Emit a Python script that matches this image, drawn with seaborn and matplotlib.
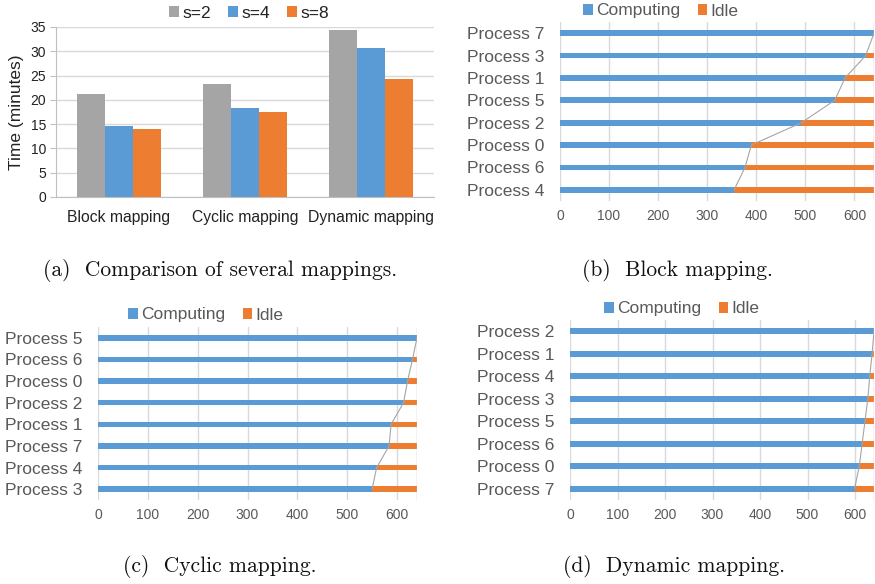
import numpy as np
import pandas as pd
import matplotlib
matplotlib.use("Agg")
import matplotlib.pyplot as plt
import seaborn as sns
from matplotlib.patches import Patch

# (a) run time per mapping and block size
mappings = ["Block mapping", "Cyclic mapping", "Dynamic mapping"]
sizes = ["s=2", "s=4", "s=8"]
time_s2 = [21.3, 23.3, 34.3]
time_s4 = [14.6, 18.4, 30.7]
time_s8 = [13.9, 17.6, 24.2]

# (b)-(d) computing time per process, total run time
total_time = 640
block_procs = ["Process 7", "Process 3", "Process 1", "Process 5",
               "Process 2", "Process 0", "Process 6", "Process 4"]
block_comp = [640, 623, 581, 560, 492, 390, 377, 355]
cyclic_procs = ["Process 5", "Process 6", "Process 0", "Process 2",
                "Process 1", "Process 7", "Process 4", "Process 3"]
cyclic_comp = [640, 631, 621, 613, 588, 584, 559, 550]
dynamic_procs = ["Process 2", "Process 1", "Process 4", "Process 3",
                 "Process 5", "Process 6", "Process 0", "Process 7"]
dynamic_comp = [640, 636, 631, 627, 621, 615, 609, 599]

GRAY = "#A5A5A5"
BLUE = "#5B9BD5"
ORANGE = "#ED7D31"
TXT = "#595959"
GRID = "#D9D9D9"

sns.set_style("white")
plt.rcParams["font.family"] = ["Liberation Sans", "DejaVu Sans"]

W, H = 875, 584
fig = plt.figure(figsize=(W / 100, H / 100), dpi=100)


def rect(left, right, top, bottom):
    return [left / W, 1 - bottom / H, (right - left) / W, (bottom - top) / H]


def square_legend(labels, colors, x, y, color):
    handles = [Patch(facecolor=c, edgecolor="none") for c in colors]
    fig.legend(handles, labels, loc="center", bbox_to_anchor=(x / W, 1 - y / H),
               ncol=len(labels), frameon=False, fontsize=12.5, handlelength=0.55,
               handleheight=0.55, handletextpad=0.2, columnspacing=1.0,
               labelcolor=color, borderpad=0)


# ---- (a) grouped bars
ax_a = fig.add_axes(rect(56, 434, 27, 197))
df = pd.DataFrame({
    "mapping": mappings * 3,
    "size": [sizes[0]] * 3 + [sizes[1]] * 3 + [sizes[2]] * 3,
    "time": time_s2 + time_s4 + time_s8,
})
sns.barplot(data=df, x="mapping", y="time", hue="size", order=mappings,
            hue_order=sizes, palette=[GRAY, BLUE, ORANGE], width=0.67,
            saturation=1, linewidth=0, errorbar=None, legend=False, ax=ax_a)
ax_a.set_ylim(0, 35)
ax_a.set_yticks(range(0, 36, 5))
ax_a.yaxis.grid(True, color=GRID, linewidth=1)
ax_a.set_axisbelow(True)
for s in ["top", "right"]:
    ax_a.spines[s].set_visible(False)
for s in ["left", "bottom"]:
    ax_a.spines[s].set_color("#BFBFBF")
ax_a.tick_params(axis="y", left=True, length=4, color="#BFBFBF",
                 labelsize=10, labelcolor="#222222", pad=3)
ax_a.tick_params(axis="x", bottom=False, labelsize=11.3, labelcolor="#222222", pad=6)
ax_a.set_xlabel("")
ax_a.set_ylabel("Time (minutes)", fontsize=12.5, color="#222222", labelpad=5)
square_legend(sizes, [GRAY, BLUE, ORANGE], 249, 13, "#222222")


# ---- (b)-(d) stacked horizontal bars
def process_chart(box, procs, comp, legend_xy):
    ax = fig.add_axes(rect(*box))
    sns.barplot(x=[total_time] * len(procs), y=procs, orient="h", color=ORANGE,
                width=0.26, saturation=1, linewidth=0, errorbar=None, ax=ax)
    sns.barplot(x=comp, y=procs, orient="h", color=BLUE, saturation=1,
                width=0.26, linewidth=0, errorbar=None, ax=ax)
    ax.plot(comp, np.arange(len(procs)), color=GRAY, linewidth=0.8, zorder=3)
    ax.axvline(total_time, color="#BFBFBF", linewidth=1, zorder=1)
    ax.set_xlim(0, total_time)
    ax.set_ylim(len(procs) - 0.5, -0.5)
    ax.set_xticks(range(0, 601, 100))
    ax.xaxis.grid(True, color=GRID, linewidth=1)
    ax.set_axisbelow(True)
    for s in ax.spines.values():
        s.set_visible(False)
    ax.tick_params(axis="x", bottom=False, length=0, labelsize=10,
                   labelcolor=TXT, pad=6)
    ax.tick_params(axis="y", left=False, length=0, labelsize=12.5,
                   labelcolor=TXT, pad=11)
    ax.set_xlabel("")
    ax.set_ylabel("")
    square_legend(["Computing", "Idle"], [BLUE, ORANGE], *legend_xy, TXT)
    return ax


process_chart((560, 874, 22, 201), block_procs, block_comp, (661, 11))
process_chart((98, 417, 327, 500), cyclic_procs, cyclic_comp, (206, 315))
process_chart((570, 874, 320, 500), dynamic_procs, dynamic_comp, (682, 309))

cap = dict(ha="center", va="center", fontsize=15.5, family="cmr10", color="#111111")
fig.text(220 / W, 1 - 271 / H, "(a)  Comparison of several mappings.", **cap)
fig.text(677 / W, 1 - 271 / H, "(b)  Block mapping.", **cap)
fig.text(220 / W, 1 - 566 / H, "(c)  Cyclic mapping.", **cap)
fig.text(674 / W, 1 - 566 / H, "(d)  Dynamic mapping.", **cap)

fig.savefig("out.png", dpi=100)
